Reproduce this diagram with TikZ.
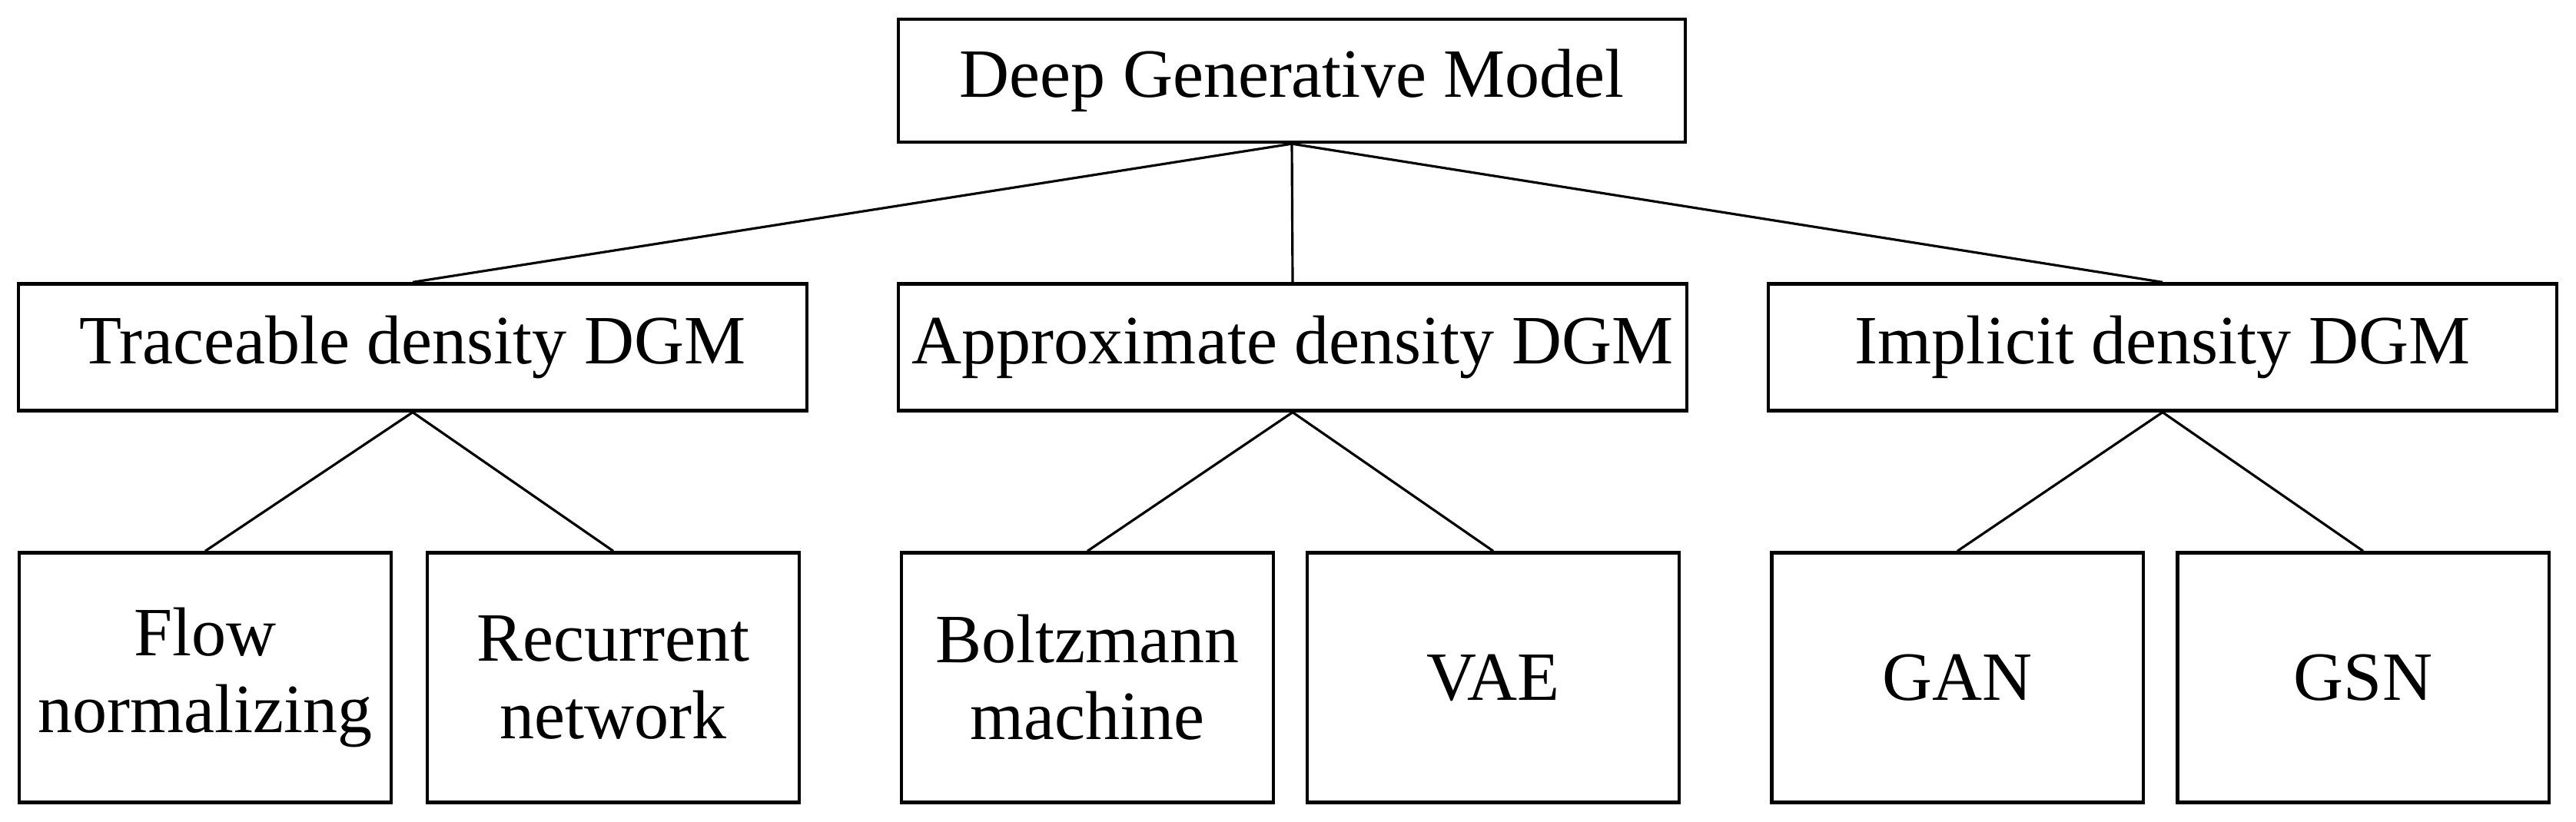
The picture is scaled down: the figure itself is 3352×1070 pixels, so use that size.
\documentclass[tikz,border=0pt]{standalone}
\usepackage{fontspec}
\setmainfont{Liberation Serif}
\usepackage{tikz}

\tikzset{
  box/.style = {draw, line width = 1.2pt, align = center, inner sep = 0pt,
                font = \fontsize{25.6}{28.5}\selectfont},
  topbox/.style = {box, minimum width = 10.24cm, minimum height = 1.6cm},
  midbox/.style = {box, minimum width = 10.26cm, minimum height = 1.65cm},
  leafbox/.style = {box, minimum width = 4.83cm, minimum height = 3.25cm},
  link/.style = {line width = 0.9pt}
}

\begin{document}
\begin{tikzpicture}[x = 0.01cm, y = -0.01cm]
        \useasboundingbox (0,0) rectangle (3352,1070);

        \node[topbox] (dgm) at (1681,105) {Deep Generative Model};

        \node[midbox] (trace)  at (537,452)  {Traceable density DGM};
        \node[midbox] (approx) at (1682,452) {Approximate density DGM};
        \node[midbox] (implic) at (2814,452) {Implicit density DGM};

        \node[leafbox] (flow)  at (267,882)  {Flow\\normalizing};
        \node[leafbox] (recur) at (798,882)  {Recurrent\\network};
        \node[leafbox] (boltz) at (1415,882) {Boltzmann\\machine};
        \node[leafbox] (vae)   at (1943,882) {VAE};
        \node[leafbox] (gan)   at (2547,882) {GAN};
        \node[leafbox] (gsn)   at (3075,882) {GSN};

        \draw[link] (dgm.south) -- (trace.north);
        \draw[link] (dgm.south) -- (approx.north);
        \draw[link] (dgm.south) -- (implic.north);

        \draw[link] (trace.south) -- (flow.north);
        \draw[link] (trace.south) -- (recur.north);
        \draw[link] (approx.south) -- (boltz.north);
        \draw[link] (approx.south) -- (vae.north);
        \draw[link] (implic.south) -- (gan.north);
        \draw[link] (implic.south) -- (gsn.north);
      \end{tikzpicture}
\end{document}
